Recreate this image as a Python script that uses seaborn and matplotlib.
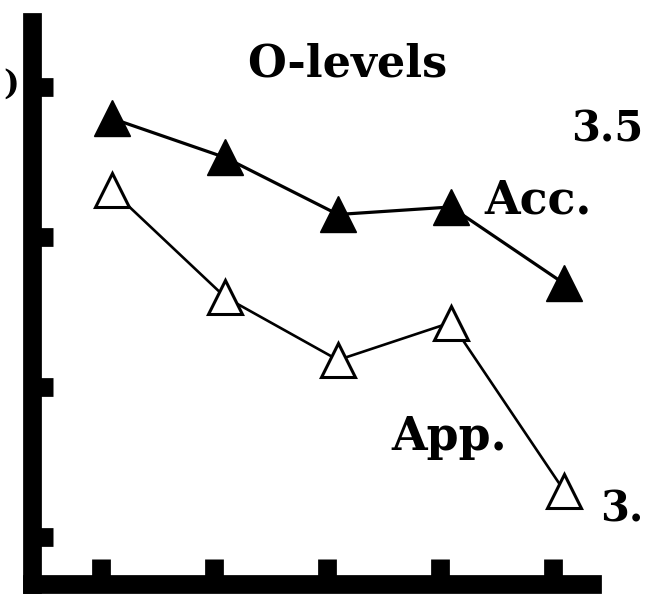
import numpy as np
import pandas as pd
import seaborn as sns
import matplotlib.pyplot as plt

# Data (arbitrary units, left ticks at 0..3)
periods = [1, 2, 3, 4, 5]
acc = [2.79, 2.53, 2.15, 2.20, 1.69]
app = [2.31, 1.60, 1.18, 1.43, 0.31]
y_ticks = [0, 1, 2, 3]

df = pd.DataFrame({"period": periods, "Acc.": acc, "App.": app})

sns.set_theme(style="white")
plt.rcParams["font.family"] = ["DejaVu Serif", "DejaVu Sans"]

fig = plt.figure(figsize=(6.47, 5.98), dpi=100)
W, H = 647, 598
ax = fig.add_axes([32 / W, 1 - 584 / H, (592 - 32) / W, (584 - 22) / H])

# filled triangles (Acc.)
sns.lineplot(data=df, x="period", y="Acc.", ax=ax, color="black", lw=2.3,
             marker="^", markersize=26, markerfacecolor="black",
             markeredgecolor="black", markeredgewidth=1)
# open triangles (App.)
sns.lineplot(data=df, x="period", y="App.", ax=ax, color="black", lw=1.9,
             marker="^", markersize=24, markerfacecolor="white",
             markeredgecolor="black", markeredgewidth=2.2)

ax.set_xlim(0.292, 5.248)
ax.set_ylim(-0.313, 3.433)
ax.set_xticks([p - 0.1 for p in periods])
ax.set_yticks(y_ticks)
ax.set_xticklabels([])
ax.set_yticklabels([])
ax.set_xlabel("")
ax.set_ylabel("")

for side in ["top", "right"]:
    ax.spines[side].set_visible(False)
for side in ["left", "bottom"]:
    ax.spines[side].set_linewidth(13.5)
    ax.spines[side].set_color("black")
ax.tick_params(axis="y", direction="in", length=15, width=13.5, color="black", left=True)
ax.tick_params(axis="x", direction="in", length=18, width=13.5, color="black", bottom=True)


def px(x, y):
    return x / W, 1 - y / H


txt = dict(fontweight="bold", color="black", ha="center", va="center")
fig.text(*px(347, 64), "O-levels", fontsize=32, **txt)
fig.text(*px(538, 200), "Acc.", fontsize=33, **txt)
fig.text(*px(449, 437), "App.", fontsize=33, **txt)
fig.text(*px(607, 130), "3.5", fontsize=30, **txt)
fig.text(*px(622, 510), "3.", fontsize=30, **txt)
fig.text(*px(11, 84), ")", fontsize=24, **txt)

fig.savefig("out.png", dpi=100)
